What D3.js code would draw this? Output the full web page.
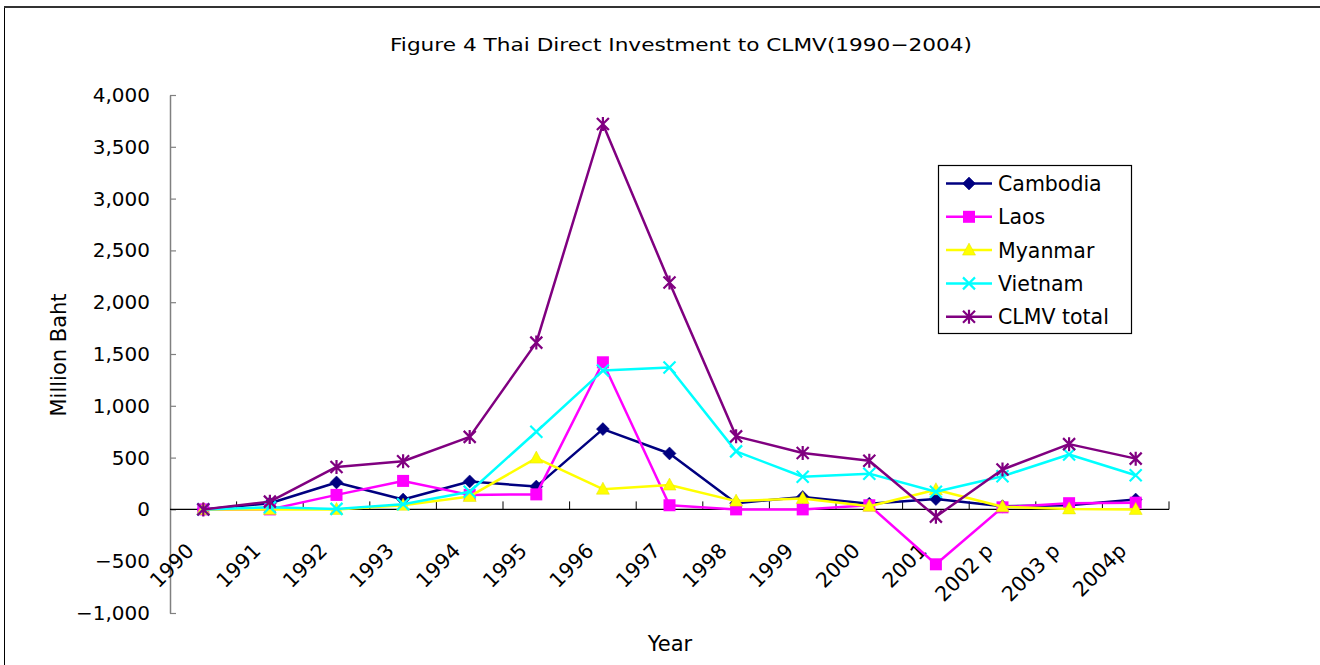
<!DOCTYPE html>
<html>
<head>
<meta charset="utf-8">
<script src="https://cdn.jsdelivr.net/npm/d3@7"></script>
<style>
  html, body { margin: 0; padding: 0; background: #fff; }
  svg { display: block; }
  text { font-family: "DejaVu Sans", sans-serif; fill: #000; }
</style>
</head>
<body>
<svg id="chart" width="1320" height="665"></svg>
<script>
// ---- data ----
const years = ["1990","1991","1992","1993","1994","1995","1996","1997","1998","1999","2000","2001","2002 p","2003 p","2004p"];
const cambodia = [0, 60, 260, 95, 270, 220, 775, 540, 60, 120, 55, 100, 30, 40, 95];
const laos     = [0, 0, 140, 275, 140, 145, 1420, 40, 0, 0, 40, -530, 20, 60, 65];
const myanmar  = [0, 0, 0, 40, 125, 495, 195, 235, 80, 105, 30, 190, 25, 5, 0];
const vietnam  = [0, 20, 5, 50, 170, 750, 1340, 1370, 560, 315, 345, 170, 320, 530, 330];
const clmvTotal= [0, 75, 410, 465, 700, 1610, 3720, 2190, 705, 545, 470, -70, 385, 630, 490];
const yTicks = [-1000, -500, 0, 500, 1000, 1500, 2000, 2500, 3000, 3500, 4000];
const seriesNames = ["Cambodia", "Laos", "Myanmar", "Vietnam", "CLMV total"];

const series = [
  {name: seriesNames[0], values: cambodia, color: "#000080", marker: "diamond"},
  {name: seriesNames[1], values: laos, color: "#FF00FF", marker: "square"},
  {name: seriesNames[2], values: myanmar, color: "#FFFF00", marker: "triangle"},
  {name: seriesNames[3], values: vietnam, color: "#00FFFF", marker: "x"},
  {name: seriesNames[4], values: clmvTotal, color: "#800080", marker: "asterisk"}
];

const svg = d3.select("#chart");

// frame
svg.append("rect").attr("x", 4.5).attr("y", 7.5).attr("width", 1400).attr("height", 700)
  .attr("fill", "#fff").attr("stroke", "#000").attr("stroke-width", 1);
svg.append("line").attr("x1", 4).attr("x2", 1320).attr("y1", 7).attr("y2", 7)
  .attr("stroke", "#333").attr("stroke-width", 2);

// scales
const x = d3.scaleBand().domain(years).range([170, 1169]).padding(0);
const cx = d => x(d) + x.bandwidth() / 2;
const y = d3.scaleLinear().domain([-1000, 4000]).range([613, 95]);

// title
svg.append("text").attr("x", 390).attr("y", 51)
  .attr("font-size", 18.5).attr("textLength", 582).attr("lengthAdjust", "spacingAndGlyphs")
  .text("Figure 4 Thai Direct Investment to CLMV(1990\u22122004)");

// y axis
const yAxis = d3.axisLeft(y).tickValues(yTicks).tickFormat(d3.format(","))
  .tickSizeInner(-6).tickSizeOuter(0).tickPadding(20);
const gy = svg.append("g").attr("transform", "translate(170,0)").call(yAxis);
gy.select(".domain").attr("stroke", "#808080").attr("stroke-width", 1.5);
gy.selectAll(".tick line").attr("stroke", "#808080").attr("stroke-width", 1.2);
gy.selectAll(".tick text").attr("font-size", 20).attr("font-family", "DejaVu Sans").attr("fill", "#000");

// x axis at zero
const y0 = y(0);
const gx = svg.append("g").attr("transform", `translate(0,${y0})`);
gx.append("line").attr("x1", 170).attr("x2", 1169).attr("y1", 0).attr("y2", 0)
  .attr("stroke", "#000").attr("stroke-width", 1.2);
const boundaries = years.map(d => x(d) + x.bandwidth()).filter(v => v > 171);
gx.selectAll("line.tk").data(boundaries).enter().append("line").attr("class", "tk")
  .attr("x1", d => d).attr("x2", d => d).attr("y1", 0).attr("y2", -8)
  .attr("stroke", "#000").attr("stroke-width", 1);

// x labels (rotated)
svg.append("g").selectAll("text").data(years).enter().append("text")
  .attr("font-size", 20.5)
  .attr("text-anchor", "end")
  .attr("transform", d => `translate(${cx(d) - 8},552) rotate(-45)`)
  .text(d => d);

// axis titles
svg.append("text").attr("font-size", 21).attr("text-anchor", "middle")
  .attr("transform", "translate(66,355) rotate(-90)").text("Million Baht");
svg.append("text").attr("font-size", 21).attr("text-anchor", "middle")
  .attr("x", 670).attr("y", 651).text("Year");

// marker drawer
function drawMarker(g, type, color) {
  if (type === "diamond") {
    g.append("path").attr("d", "M0,-6.5L6.5,0L0,6.5L-6.5,0Z").attr("fill", color).attr("stroke", color).attr("stroke-width", 0.5);
  } else if (type === "square") {
    g.append("rect").attr("x", -6).attr("y", -6).attr("width", 12).attr("height", 12).attr("fill", color);
  } else if (type === "triangle") {
    g.append("path").attr("d", "M0,-7L6.5,5L-6.5,5Z").attr("fill", color).attr("stroke", "#e0e000").attr("stroke-width", 0.5);
  } else if (type === "x") {
    g.append("path").attr("d", "M-6,-6L6,6M-6,6L6,-6").attr("stroke", color).attr("stroke-width", 2.2).attr("fill", "none");
  } else if (type === "asterisk") {
    g.append("path").attr("d", "M-6,-6L6,6M-6,6L6,-6M0,-7L0,7").attr("stroke", color).attr("stroke-width", 2.2).attr("fill", "none");
  }
}

// lines & markers
const line = d3.line().x((d, i) => cx(years[i])).y(d => y(d));
const plot = svg.append("g");
series.forEach(s => {
  const g = plot.append("g");
  g.append("path").datum(s.values).attr("d", line)
    .attr("fill", "none").attr("stroke", s.color).attr("stroke-width", 2.5).attr("stroke-linejoin", "round");
  s.values.forEach((v, i) => {
    const mg = g.append("g").attr("transform", `translate(${cx(years[i])},${y(v)})`);
    drawMarker(mg, s.marker, s.color);
  });
});

// legend
const lg = svg.append("g");
lg.append("rect").attr("x", 938.5).attr("y", 165.5).attr("width", 193).attr("height", 168)
  .attr("fill", "#fff").attr("stroke", "#000").attr("stroke-width", 1.2);
series.forEach((s, i) => {
  const ly = 183.5 + i * 33.3;
  lg.append("line").attr("x1", 946).attr("x2", 992).attr("y1", ly).attr("y2", ly)
    .attr("stroke", s.color).attr("stroke-width", 2.5);
  const mg = lg.append("g").attr("transform", `translate(969,${ly})`);
  drawMarker(mg, s.marker, s.color);
  lg.append("text").attr("x", 998).attr("y", ly + 7.5).attr("font-size", 20.5).text(s.name);
});
</script>
</body>
</html>
